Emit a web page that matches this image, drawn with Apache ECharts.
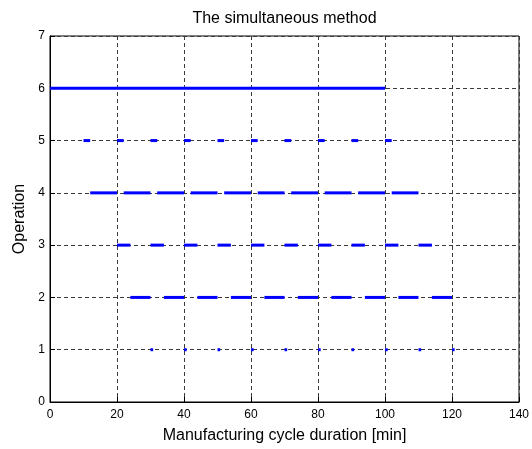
<!DOCTYPE html>
<html>
<head>
<meta charset="utf-8">
<title>The simultaneous method</title>
<script src="https://cdn.jsdelivr.net/npm/echarts@6/dist/echarts.min.js"></script>
<style>
  html, body { margin: 0; padding: 0; background: #fff; }
  #chart { width: 532px; height: 449px; }
</style>
</head>
<body>
<div id="chart"></div>
<script>
// operation lanes, each lane is a list of [start, end] busy intervals in minutes
let operations = [1, 2, 3, 4, 5, 6];
let op1 = [[30,30.8],[40,40.8],[50,50.8],[60,60.8],[70,70.8],[80,80.8],[90,90.8],[100,100.8],[110,110.8],[120,120.8]];
let op2 = [[24,30],[34,40],[44,50],[54,60],[64,70],[74,80],[84,90],[94,100],[104,110],[114,120]];
let op3 = [[20,24],[30,34],[40,44],[50,54],[60,64],[70,74],[80,84],[90,94],[100,104],[110,114]];
let op4 = [[12,20],[22,30],[32,40],[42,50],[52,60],[62,70],[72,80],[82,90],[92,100],[102,110]];
let op5 = [[10,12],[20,22],[30,32],[40,42],[50,52],[60,62],[70,72],[80,82],[90,92],[100,102]];
let op6 = [[0,100]];
let xTicks = [0, 20, 40, 60, 80, 100, 120, 140];
let yTicks = [0, 1, 2, 3, 4, 5, 6, 7];

let lanes = [op1, op2, op3, op4, op5, op6];
let segs = [];
lanes.forEach((lane, i) => lane.forEach(s => segs.push([s[0], s[1], operations[i]])));

let font = 'Liberation Sans, Arial, Helvetica, sans-serif';
let gridDash = { color: '#3a3a3a', width: 1, type: [4, 3] };

let chart = echarts.init(document.getElementById('chart'));
chart.setOption({
    animation: false,
    backgroundColor: '#fff',
    title: {
        text: 'The simultaneous method',
        left: 284.5,
        textAlign: 'center',
        top: 11,
        padding: 0,
        textStyle: { fontFamily: font, fontSize: 16, fontWeight: 'normal', color: '#000' }
    },
    grid: { left: 50, right: 13, top: 36, bottom: 45, show: true, borderColor: '#000', borderWidth: 1 },
    xAxis: {
        type: 'value',
        min: xTicks[0], max: xTicks[xTicks.length - 1], interval: 20,
        name: 'Manufacturing cycle duration [min]',
        nameLocation: 'middle', nameGap: 26,
        nameTextStyle: { fontFamily: font, fontSize: 16, color: '#000' },
        axisLine: { show: true, lineStyle: { color: '#000', width: 1 } },
        axisTick: { show: true, inside: true, length: 5, lineStyle: { color: '#000' } },
        axisLabel: { fontFamily: font, fontSize: 12, color: '#000', margin: 7 },
        splitLine: { show: true, lineStyle: gridDash }
    },
    yAxis: {
        type: 'value',
        min: yTicks[0], max: yTicks[yTicks.length - 1], interval: 1,
        name: 'Operation',
        nameLocation: 'middle', nameGap: 18,
        nameTextStyle: { fontFamily: font, fontSize: 16, color: '#000' },
        axisLine: { show: true, lineStyle: { color: '#000', width: 1 } },
        axisTick: { show: true, inside: true, length: 5, lineStyle: { color: '#000' } },
        axisLabel: { fontFamily: font, fontSize: 12, color: '#000', margin: 5 },
        splitLine: { show: true, lineStyle: gridDash }
    },
    series: [{
        type: 'custom',
        clip: true,
        encode: { x: [0, 1], y: 2 },
        data: segs,
        renderItem: (params, api) => {
            let a = api.coord([api.value(0), api.value(2)]);
            let b = api.coord([api.value(1), api.value(2)]);
            return {
                type: 'line',
                shape: { x1: a[0], y1: a[1], x2: b[0], y2: b[1] },
                style: { stroke: '#0000ff', lineWidth: 3, lineCap: 'butt' }
            };
        }
    }]
});
</script>
</body>
</html>
